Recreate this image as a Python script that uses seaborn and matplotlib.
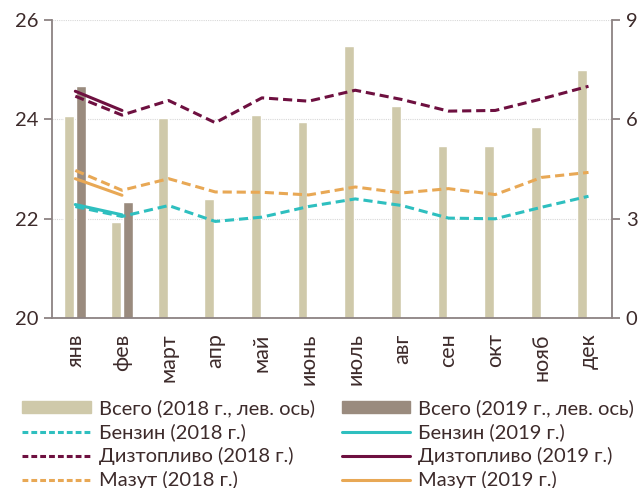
import matplotlib
matplotlib.use("Agg")
import matplotlib.pyplot as plt
import numpy as np
import pandas as pd
import seaborn as sns
from matplotlib.lines import Line2D
from matplotlib.patches import Patch

# Monthly data
months = ["янв", "фев", "март", "апр", "май", "июнь",
          "июль", "авг", "сен", "окт", "нояб", "дек"]

total_2018 = [24.07, 21.94, 24.03, 22.39, 24.08, 23.95,
              25.47, 24.27, 23.47, 23.47, 23.84, 24.99]
total_2019 = [24.67, 22.33]

petrol_2018 = [3.37, 3.07, 3.40, 2.92, 3.05, 3.37, 3.60, 3.40, 3.02, 3.00, 3.35, 3.68]
petrol_2019 = [3.43, 3.12]
diesel_2018 = [6.70, 6.13, 6.57, 5.90, 6.65, 6.55, 6.88, 6.60, 6.25, 6.27, 6.62, 7.00]
diesel_2019 = [6.85, 6.27]
fueloil_2018 = [4.46, 3.86, 4.21, 3.81, 3.80, 3.72, 3.96, 3.78, 3.91, 3.73, 4.25, 4.40]
fueloil_2019 = [4.21, 3.71]

TEXT = "#3d2b2b"
C_2018 = "#cfc9aa"
C_2019 = "#9a8b7e"
C_PETROL = "#2ebfbf"
C_DIESEL = "#6e1040"
C_FUEL = "#e8a855"
SPINE = "#8c8282"

sns.set_style("white")
plt.rcParams["font.family"] = ["Lato", "DejaVu Sans"]
plt.rcParams["text.color"] = TEXT
plt.rcParams["xtick.color"] = TEXT
plt.rcParams["ytick.color"] = TEXT

bars = pd.DataFrame({
    "month": months * 2,
    "year": ["2018"] * 12 + ["2019"] * 12,
    "value": total_2018 + total_2019 + [np.nan] * 10,
})

fig = plt.figure(figsize=(6.42, 4.88), dpi=100)
ax = fig.add_axes([0.081, 0.348, 0.872, 0.611])

sns.barplot(data=bars, x="month", y="value", hue="year", order=months,
            palette=[C_2018, C_2019], width=0.52, gap=0.18, dodge=True,
            ax=ax, legend=False, saturation=1)
ax.set_ylim(20, 26)
ax.set_yticks([20, 22, 24, 26])
ax.set_xlim(-0.5, 11.5)
ax.set_xlabel("")
ax.set_ylabel("")
ax.yaxis.grid(True, color="#d8d8d8", linestyle=(0, (1, 1)), linewidth=0.8)
ax.set_axisbelow(True)

ax2 = ax.twinx()
x = np.arange(12)
x19 = np.arange(2)
dash = (3, 1.6)
sns.lineplot(x=x, y=petrol_2018, ax=ax2, color=C_PETROL, lw=2.2, linestyle=(0, dash))
sns.lineplot(x=x19, y=petrol_2019, ax=ax2, color=C_PETROL, lw=2.2)
sns.lineplot(x=x, y=diesel_2018, ax=ax2, color=C_DIESEL, lw=2.2, linestyle=(0, dash))
sns.lineplot(x=x19, y=diesel_2019, ax=ax2, color=C_DIESEL, lw=2.2)
sns.lineplot(x=x, y=fueloil_2018, ax=ax2, color=C_FUEL, lw=2.2, linestyle=(0, dash))
sns.lineplot(x=x19, y=fueloil_2019, ax=ax2, color=C_FUEL, lw=2.2)
ax2.set_ylim(0, 9)
ax2.set_yticks([0, 3, 6, 9])
ax2.set_xlim(-0.5, 11.5)

for a in (ax, ax2):
    a.spines["top"].set_visible(False)
    for side in ("left", "right", "bottom"):
        a.spines[side].set_color(SPINE)
        a.spines[side].set_linewidth(1.3)
ax.spines["right"].set_visible(False)
ax2.spines["left"].set_visible(False)
ax2.spines["bottom"].set_visible(False)

ax.tick_params(axis="y", length=6, width=1.3, color=SPINE, labelsize=14.5, pad=4)
ax2.tick_params(axis="y", length=6, width=1.3, color=SPINE, labelsize=14.5, pad=4)
ax.set_xticks(x)
ax.set_xticklabels(months, rotation=90, fontsize=15.5)
ax.tick_params(axis="x", length=0, pad=11)
ax.set_xticks(np.arange(-0.5, 12, 1), minor=True)
ax.tick_params(axis="x", which="minor", length=6, width=1.3, color=SPINE)

leg_dash = (0, (1.9, 1.0))
handles = [
    Patch(color=C_2018),
    Line2D([], [], color=C_PETROL, lw=2.2, ls=leg_dash),
    Line2D([], [], color=C_DIESEL, lw=2.2, ls=leg_dash),
    Line2D([], [], color=C_FUEL, lw=2.2, ls=leg_dash),
    Patch(color=C_2019),
    Line2D([], [], color=C_PETROL, lw=2.2),
    Line2D([], [], color=C_DIESEL, lw=2.2),
    Line2D([], [], color=C_FUEL, lw=2.2),
]
labels = [
    "Всего (2018 г., лев. ось)", "Бензин (2018 г.)", "Дизтопливо (2018 г.)", "Мазут (2018 г.)",
    "Всего (2019 г., лев. ось)", "Бензин (2019 г.)", "Дизтопливо (2019 г.)", "Мазут (2019 г.)",
]
fig.legend(handles, labels, ncol=2, loc="upper left", bbox_to_anchor=(0.022, 0.198),
           frameon=False, fontsize=14.5, handlelength=3.4, handleheight=0.55,
           handletextpad=0.4, columnspacing=1.35, labelspacing=0.3, borderpad=0.4,
           borderaxespad=0)

fig.savefig("out.png", dpi=100)
